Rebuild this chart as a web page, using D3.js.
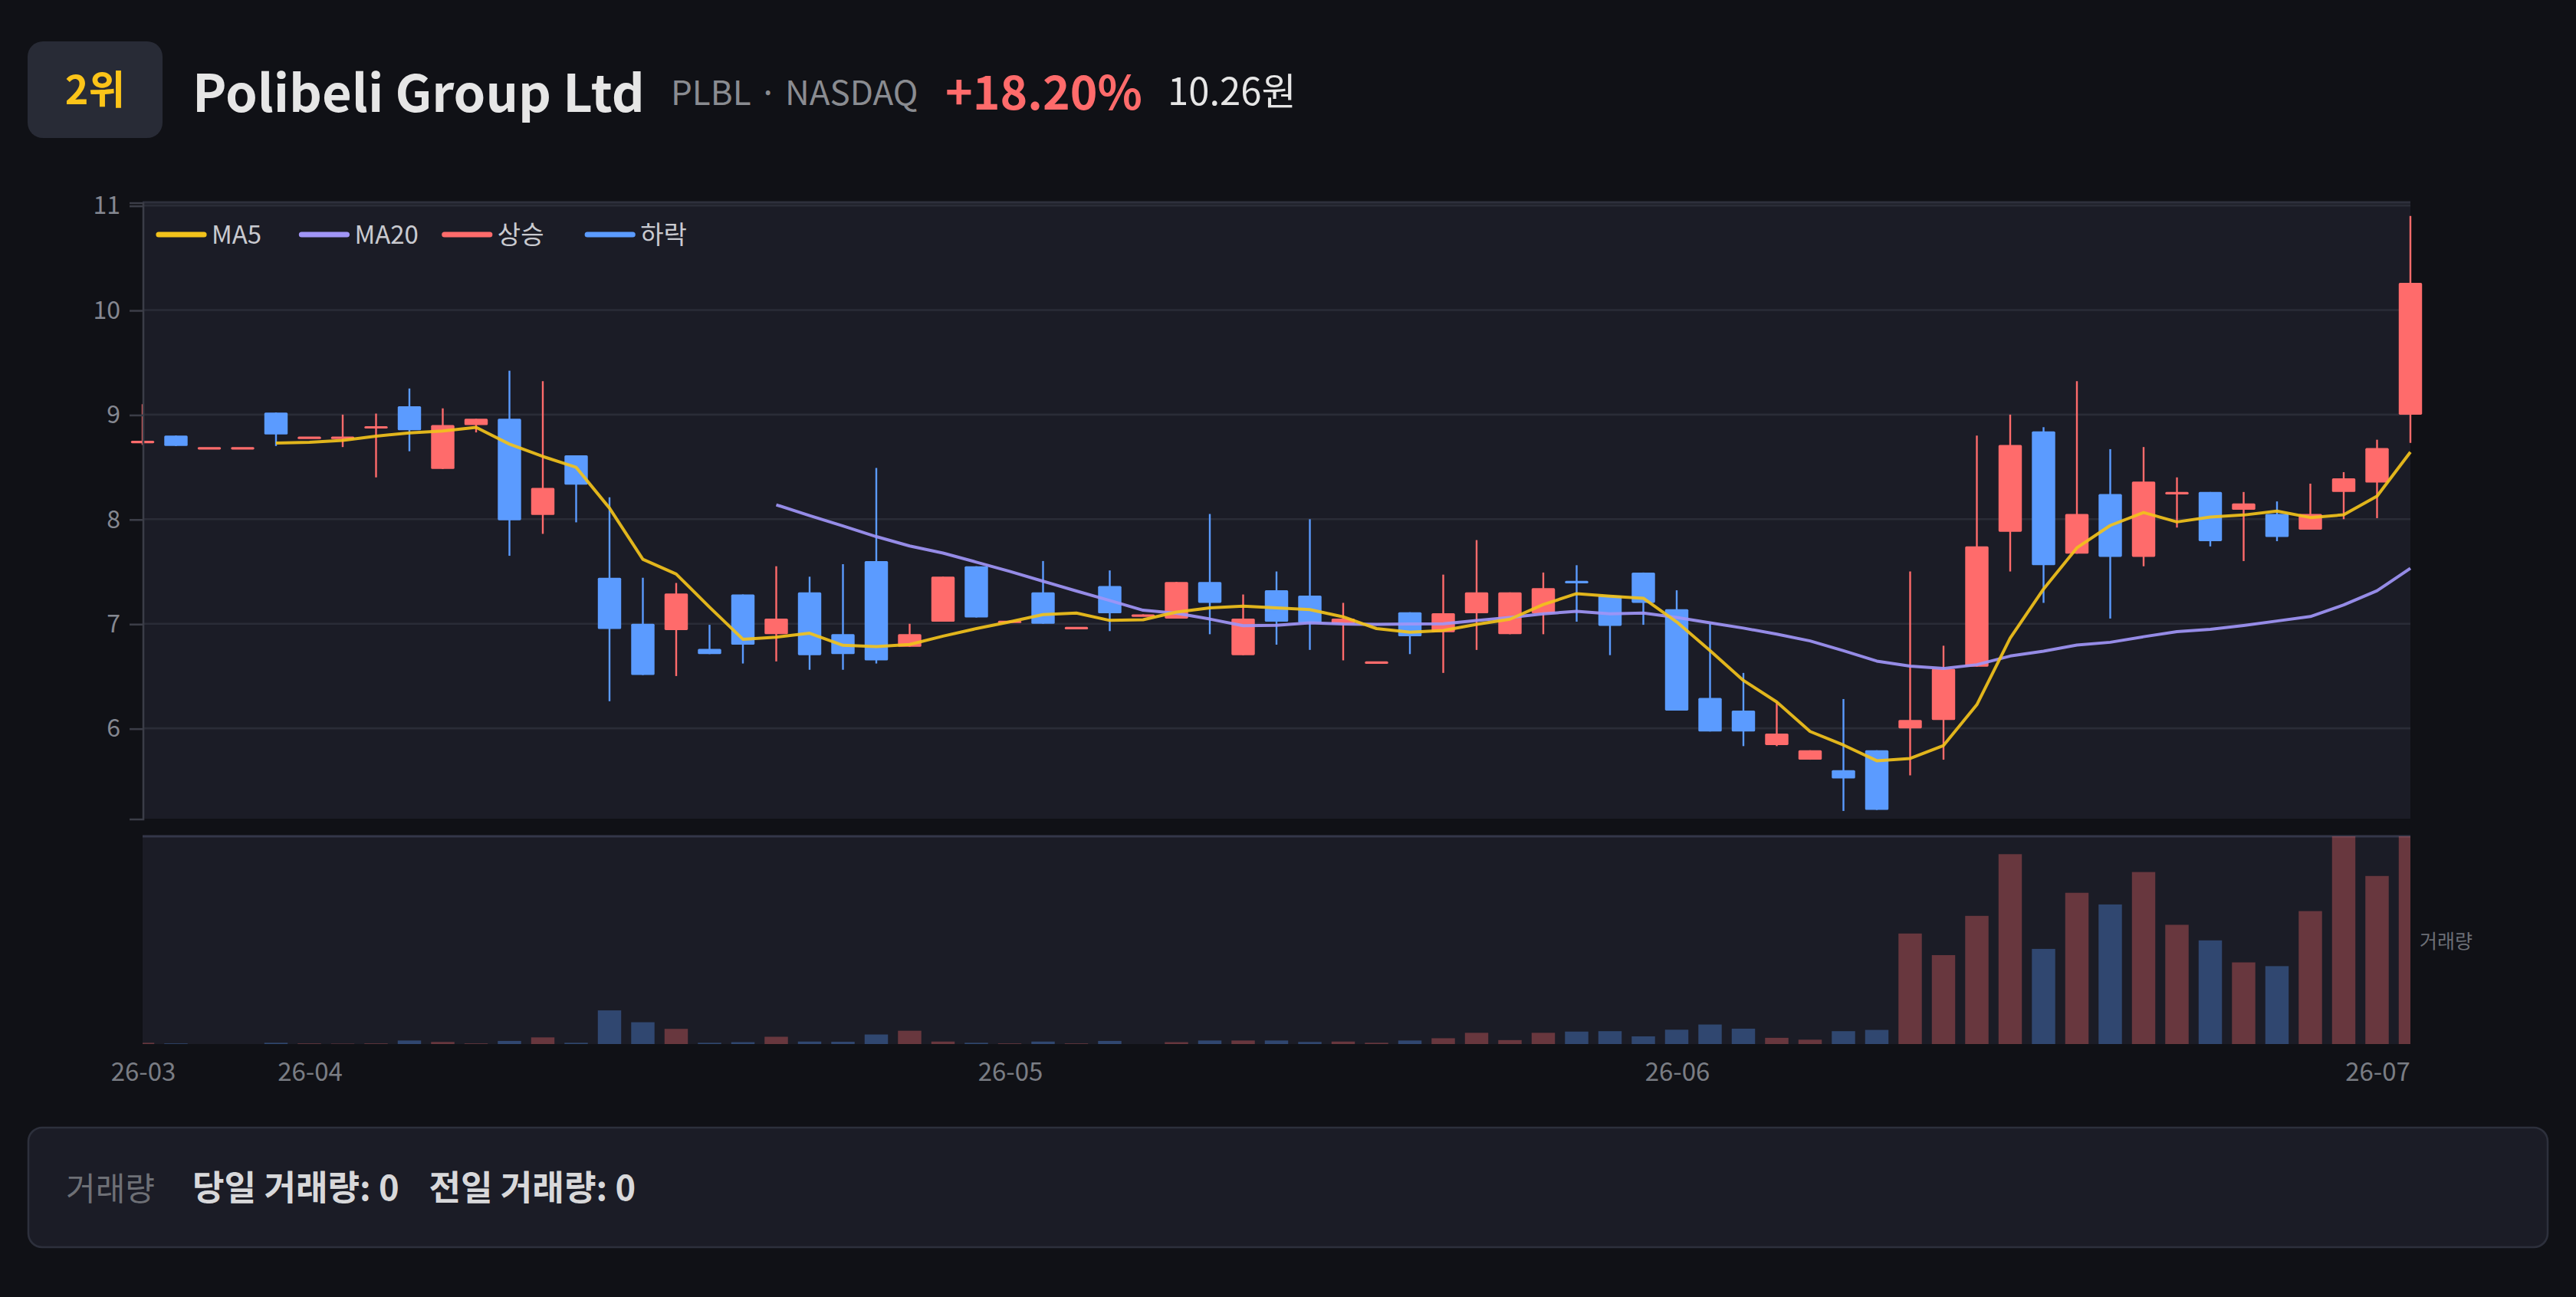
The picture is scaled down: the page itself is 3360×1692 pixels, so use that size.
<!DOCTYPE html>
<html>
<head>
<meta charset="utf-8">
<script src="https://cdn.jsdelivr.net/npm/d3@7"></script>
<style>
  html, body { margin: 0; padding: 0; background: #101116; }
  svg { display: block; }
  text { font-family: "Noto Sans CJK KR", "Noto Sans", sans-serif; }
</style>
</head>
<body>
<div id="chart"></div>
<script>
// trading days shown on the chart
const dates = [
  "2026-03-25","2026-03-26","2026-03-27","2026-03-30","2026-03-31",
  "2026-04-01","2026-04-02","2026-04-06","2026-04-07","2026-04-08","2026-04-09","2026-04-10",
  "2026-04-13","2026-04-14","2026-04-15","2026-04-16","2026-04-17","2026-04-20","2026-04-21",
  "2026-04-22","2026-04-23","2026-04-24","2026-04-27","2026-04-28","2026-04-29","2026-04-30",
  "2026-05-01","2026-05-04","2026-05-05","2026-05-06","2026-05-07","2026-05-08","2026-05-11",
  "2026-05-12","2026-05-13","2026-05-14","2026-05-15","2026-05-18","2026-05-19","2026-05-20",
  "2026-05-21","2026-05-22","2026-05-26","2026-05-27","2026-05-28","2026-05-29",
  "2026-06-01","2026-06-02","2026-06-03","2026-06-04","2026-06-05","2026-06-08","2026-06-09",
  "2026-06-10","2026-06-11","2026-06-12","2026-06-15","2026-06-16","2026-06-17","2026-06-18",
  "2026-06-22","2026-06-23","2026-06-24","2026-06-25","2026-06-26","2026-06-29","2026-06-30",
  "2026-07-01","2026-07-02"
];

const opens = [
  8.74, 8.80, 8.69, 8.69, 9.02, 8.79, 8.78, 8.88, 9.08, 8.48,
  8.90, 8.96, 8.04, 8.61, 7.44, 7.00, 6.94, 6.76, 7.28, 6.90,
  7.30, 6.90, 7.60, 6.78, 7.02, 7.55, 7.02, 7.30, 6.97, 7.36,
  7.08, 7.05, 7.40, 6.70, 7.32, 7.27, 7.00, 6.64, 7.11, 6.92,
  7.10, 6.90, 7.10, 7.41, 7.27, 7.49, 7.14, 6.29, 6.17, 5.84,
  5.70, 5.60, 5.79, 6.00, 6.08, 6.59, 7.88, 8.84, 7.67, 8.24,
  7.64, 8.25, 8.26, 8.09, 8.05, 7.90, 8.26, 8.35, 9.00
];
const highs = [
  9.10, 8.80, 8.69, 8.69, 9.02, 8.79, 9.00, 9.01, 9.25, 9.06,
  8.96, 9.42, 9.32, 8.61, 8.21, 7.44, 7.39, 6.99, 7.28, 7.55,
  7.45, 7.57, 8.49, 7.00, 7.45, 7.55, 7.03, 7.60, 6.97, 7.51,
  7.09, 7.40, 8.05, 7.28, 7.50, 8.00, 7.20, 6.64, 7.11, 7.47,
  7.80, 7.30, 7.49, 7.56, 7.27, 7.49, 7.32, 7.00, 6.53, 6.25,
  5.79, 6.28, 5.79, 7.50, 6.79, 8.80, 9.00, 8.88, 9.32, 8.67,
  8.69, 8.40, 8.26, 8.26, 8.17, 8.34, 8.45, 8.76, 10.90
];
const lows = [
  8.71, 8.70, 8.69, 8.69, 8.70, 8.79, 8.69, 8.40, 8.65, 8.48,
  8.83, 7.65, 7.86, 7.97, 6.26, 6.51, 6.50, 6.71, 6.62, 6.64,
  6.56, 6.56, 6.62, 6.78, 7.02, 7.06, 7.02, 7.00, 6.97, 6.93,
  7.08, 7.05, 6.90, 6.70, 6.80, 6.75, 6.65, 6.64, 6.71, 6.53,
  6.75, 6.90, 6.90, 7.02, 6.70, 6.99, 6.17, 5.97, 5.83, 5.83,
  5.70, 5.21, 5.22, 5.55, 5.70, 6.59, 7.50, 7.20, 7.67, 7.05,
  7.55, 7.92, 7.74, 7.60, 7.79, 7.90, 8.00, 8.01, 8.73
];
const closes = [
  8.75, 8.70, 8.69, 8.69, 8.81, 8.79, 8.79, 8.89, 8.85, 8.90,
  8.96, 7.99, 8.30, 8.33, 6.95, 6.51, 7.29, 6.71, 6.80, 7.05,
  6.70, 6.71, 6.65, 6.90, 7.45, 7.06, 7.03, 7.00, 6.97, 7.10,
  7.09, 7.40, 7.20, 7.05, 7.02, 7.01, 7.05, 6.64, 6.88, 7.10,
  7.30, 7.30, 7.34, 7.40, 6.98, 7.20, 6.17, 5.97, 5.97, 5.95,
  5.79, 5.52, 5.22, 6.08, 6.57, 7.74, 8.71, 7.56, 8.05, 7.64,
  8.36, 8.26, 7.79, 8.15, 7.83, 8.05, 8.39, 8.68, 10.26
];
// volume, thousand shares
const volumes = [
  6, 3, 0, 0, 6, 3, 2, 3, 17, 10,
  3, 15, 32, 6, 162, 105, 73, 6, 9, 35,
  12, 11, 46, 64, 12, 6, 3, 12, 3, 15,
  0, 9, 17, 17, 17, 10, 12, 6, 17, 28,
  54, 19, 54, 60, 62, 37, 69, 94, 74, 30,
  21, 62, 68, 532, 428, 617, 914, 458, 728, 672,
  828, 574, 499, 393, 375, 640, 1000, 809, 1000
];

const priceTicks = [6, 7, 8, 9, 10, 11];
const priceDomain = [5.136, 11.03];
const legendLabels = ["MA5", "MA20", "상승", "하락"];

const header = {
  rank: "2위",
  name: "Polibeli Group Ltd",
  ticker: "PLBL · NASDAQ",
  change: "+18.20%",
  price: "10.26원"
};

const colors = {
  up: "#ff6b6b",
  down: "#5b9bff",
  ma5: "#f2c21b",
  ma20: "#a095f6",
  grid: "#2a2c37",
  axis: "#3b3d47",
  tick: "#858891"
};

class CandleChart {
  constructor(_config) {
    this.config = {
      parentElement: _config.parentElement,
      width: 1680,
      height: 846,
      plot: { left: 93, right: 1572, top: 132, bottom: 534 },
      vol: { top: 545.5, bottom: 681 }
    };
    this.initVis();
  }

  initVis() {
    let vis = this;
    let c = vis.config;

    vis.svg = d3.select(c.parentElement)
      .append("svg")
      .attr("width", 3360)
      .attr("height", 1692)
      .attr("viewBox", `0 0 ${c.width} ${c.height}`);

    vis.svg.append("rect")
      .attr("width", c.width)
      .attr("height", c.height)
      .attr("fill", "#101116");

    vis.data = dates.map((d, i) => ({
      date: d,
      open: opens[i],
      high: highs[i],
      low: lows[i],
      close: closes[i],
      volume: volumes[i],
      up: closes[i] >= opens[i]
    }));

    vis.xScale = d3.scalePoint()
      .domain(dates)
      .range([c.plot.left, c.plot.right]);

    vis.yScale = d3.scaleLinear()
      .domain(priceDomain)
      .range([c.plot.bottom, c.plot.top]);

    vis.vScale = d3.scaleLinear()
      .domain([0, d3.max(volumes)])
      .range([c.vol.bottom, c.vol.top]);

    vis.bodyWidth = vis.xScale.step() * 0.7;

    vis.drawHeader();
    vis.drawFrames();
    vis.renderVis();
    vis.yAxisGroup.raise();
    vis.drawFooter();
  }

  drawHeader() {
    let vis = this;
    let g = vis.svg.append("g");

    g.append("rect")
      .attr("x", 18).attr("y", 27)
      .attr("width", 88).attr("height", 63)
      .attr("rx", 10)
      .attr("fill", "#282b36");

    g.append("text")
      .attr("x", 62).attr("y", 68)
      .attr("text-anchor", "middle")
      .attr("font-size", 26).attr("font-weight", 700)
      .attr("fill", "#fcc419")
      .text(header.rank);

    g.append("text")
      .attr("x", 125.5).attr("y", 73)
      .attr("font-size", 33.4).attr("font-weight", 700)
      .attr("fill", "#e6e6e6")
      .text(header.name);

    g.append("text")
      .attr("x", 437.5).attr("y", 68.7)
      .attr("font-size", 22)
      .attr("fill", "#8a8c91")
      .text(header.ticker);

    g.append("text")
      .attr("x", 616.5).attr("y", 71.7)
      .attr("font-size", 30.3).attr("font-weight", 700)
      .attr("fill", colors.up)
      .text(header.change);

    g.append("text")
      .attr("x", 761.5).attr("y", 68.7)
      .attr("font-size", 24.5)
      .attr("fill", "#e6e6e6")
      .text(header.price);
  }

  drawFrames() {
    let vis = this;
    let c = vis.config;

    // price panel
    vis.svg.append("rect")
      .attr("x", c.plot.left).attr("y", c.plot.top)
      .attr("width", c.plot.right - c.plot.left)
      .attr("height", c.plot.bottom - c.plot.top)
      .attr("fill", "#1b1c26");

    vis.svg.append("g")
      .selectAll("line")
      .data(priceTicks)
      .join("line")
      .attr("x1", c.plot.left).attr("x2", c.plot.right)
      .attr("y1", d => vis.yScale(d)).attr("y2", d => vis.yScale(d))
      .attr("stroke", colors.grid)
      .attr("stroke-width", 1.3);

    vis.svg.append("line")
      .attr("x1", c.plot.left).attr("x2", c.plot.right)
      .attr("y1", c.plot.top).attr("y2", c.plot.top)
      .attr("stroke", "#2e303c")
      .attr("stroke-width", 1.5);

    let yAxis = d3.axisLeft(vis.yScale)
      .tickValues(priceTicks)
      .tickFormat(d3.format("d"))
      .tickSize(8.5)
      .tickPadding(6);

    vis.yAxisGroup = vis.svg.append("g")
      .attr("transform", `translate(${c.plot.left},0)`)
      .call(yAxis);
    vis.yAxisGroup.select(".domain").attr("stroke", colors.axis).attr("stroke-width", 1.3);
    vis.yAxisGroup.selectAll(".tick line").attr("stroke", colors.axis).attr("stroke-width", 1.3);
    vis.yAxisGroup.selectAll(".tick text")
      .attr("fill", colors.tick)
      .attr("font-size", 16)
      .attr("font-family", "Noto Sans CJK KR, Noto Sans, sans-serif");

    // volume panel
    vis.svg.append("rect")
      .attr("x", c.plot.left).attr("y", c.vol.top)
      .attr("width", c.plot.right - c.plot.left)
      .attr("height", c.vol.bottom - c.vol.top)
      .attr("fill", "#1b1c26");

    vis.svg.append("line")
      .attr("x1", c.plot.left).attr("x2", c.plot.right)
      .attr("y1", c.vol.top).attr("y2", c.vol.top)
      .attr("stroke", "#343749")
      .attr("stroke-width", 1.6);

    vis.svg.append("clipPath")
      .attr("id", "vol-clip")
      .append("rect")
      .attr("x", c.plot.left).attr("y", c.vol.top)
      .attr("width", c.plot.right - c.plot.left)
      .attr("height", c.vol.bottom - c.vol.top);

    vis.svg.append("text")
      .attr("x", 1578).attr("y", 618.5)
      .attr("font-size", 12.5)
      .attr("fill", "#6c6f76")
      .text("거래량");

    // x axis: first trading day of each month
    let parse = d3.timeParse("%Y-%m-%d");
    let fmt = d3.timeFormat("%y-%m");
    let monthStarts = dates.filter((d, i) => i === 0 || d.slice(0, 7) !== dates[i - 1].slice(0, 7));

    let xAxis = d3.axisBottom(vis.xScale)
      .tickValues(monthStarts)
      .tickFormat(d => fmt(parse(d)))
      .tickSize(0)
      .tickPadding(0);

    let xAxisGroup = vis.svg.append("g")
      .attr("transform", `translate(0,${c.vol.bottom})`)
      .call(xAxis);
    xAxisGroup.select(".domain").remove();
    xAxisGroup.selectAll(".tick text")
      .attr("fill", "#7a7d84")
      .attr("font-size", 16.5)
      .attr("font-family", "Noto Sans CJK KR, Noto Sans, sans-serif")
      .attr("dy", 0)
      .attr("y", 24);

    // legend
    let legendColors = [colors.ma5, colors.ma20, colors.up, colors.down];
    let legend = vis.svg.append("g")
      .selectAll("g")
      .data(legendLabels)
      .join("g")
      .attr("transform", (d, i) => `translate(${103.5 + i * 93.2},153)`);

    legend.append("line")
      .attr("x1", 0).attr("x2", 29.5)
      .attr("stroke", (d, i) => legendColors[i])
      .attr("stroke-width", 3.6)
      .attr("stroke-linecap", "round");

    legend.append("text")
      .attr("x", 34.5).attr("y", 6)
      .attr("font-size", 16.5)
      .attr("fill", "#c9cad0")
      .text(d => d);
  }

  renderVis() {
    let vis = this;
    let bw = vis.bodyWidth;

    // volume bars
    vis.svg.append("g")
      .attr("clip-path", "url(#vol-clip)")
      .selectAll(".vol")
      .data(vis.data)
      .join("rect")
      .attr("class", "vol")
      .attr("x", d => vis.xScale(d.date) - bw / 2)
      .attr("y", d => vis.vScale(d.volume))
      .attr("width", bw)
      .attr("height", d => vis.config.vol.bottom - vis.vScale(d.volume))
      .attr("fill", d => d.up ? colors.up : colors.down)
      .attr("fill-opacity", 0.34);

    // candles
    let candles = vis.svg.append("g")
      .selectAll(".candle")
      .data(vis.data)
      .join("g")
      .attr("class", "candle");

    candles.append("line")
      .attr("x1", d => vis.xScale(d.date))
      .attr("x2", d => vis.xScale(d.date))
      .attr("y1", d => vis.yScale(d.high))
      .attr("y2", d => vis.yScale(d.low))
      .attr("stroke", d => d.up ? colors.up : colors.down)
      .attr("stroke-width", 1.2);

    candles.append("rect")
      .attr("x", d => vis.xScale(d.date) - bw / 2)
      .attr("y", d => vis.yScale(Math.max(d.open, d.close)))
      .attr("width", bw)
      .attr("height", d => Math.max(1.6, Math.abs(vis.yScale(d.open) - vis.yScale(d.close))))
      .attr("rx", 0.8)
      .attr("fill", d => d.up ? colors.up : colors.down);

    // moving averages from closes
    let maLine = n => {
      let pts = [];
      vis.data.forEach((d, i) => {
        if (i >= n - 1) pts.push({ date: d.date, v: d3.mean(closes.slice(i - n + 1, i + 1)) });
      });
      return pts;
    };

    let line = d3.line()
      .x(d => vis.xScale(d.date))
      .y(d => vis.yScale(d.v));

    vis.svg.append("path")
      .datum(maLine(20))
      .attr("d", line)
      .attr("fill", "none")
      .attr("stroke", colors.ma20)
      .attr("stroke-width", 2)
      .attr("stroke-opacity", 0.92)
      .attr("stroke-linejoin", "round");

    vis.svg.append("path")
      .datum(maLine(5))
      .attr("d", line)
      .attr("fill", "none")
      .attr("stroke", colors.ma5)
      .attr("stroke-width", 2)
      .attr("stroke-opacity", 0.92)
      .attr("stroke-linejoin", "round");
  }

  drawFooter() {
    let vis = this;
    let g = vis.svg.append("g");

    g.append("rect")
      .attr("x", 18.5).attr("y", 735.5)
      .attr("width", 1643).attr("height", 78)
      .attr("rx", 9)
      .attr("fill", "#1b1c26")
      .attr("stroke", "#2d303c")
      .attr("stroke-width", 1.3);

    g.append("text")
      .attr("x", 43).attr("y", 783)
      .attr("font-size", 21)
      .attr("fill", "#6e7076")
      .text("거래량");

    g.append("text")
      .attr("x", 125.5).attr("y", 783)
      .attr("font-size", 22.6).attr("font-weight", 700)
      .attr("fill", "#d8d8da")
      .text("당일 거래량: 0");

    g.append("text")
      .attr("x", 279.7).attr("y", 783)
      .attr("font-size", 22.6).attr("font-weight", 700)
      .attr("fill", "#d8d8da")
      .text("전일 거래량: 0");
  }
}

new CandleChart({ parentElement: "#chart" });
</script>
</body>
</html>
